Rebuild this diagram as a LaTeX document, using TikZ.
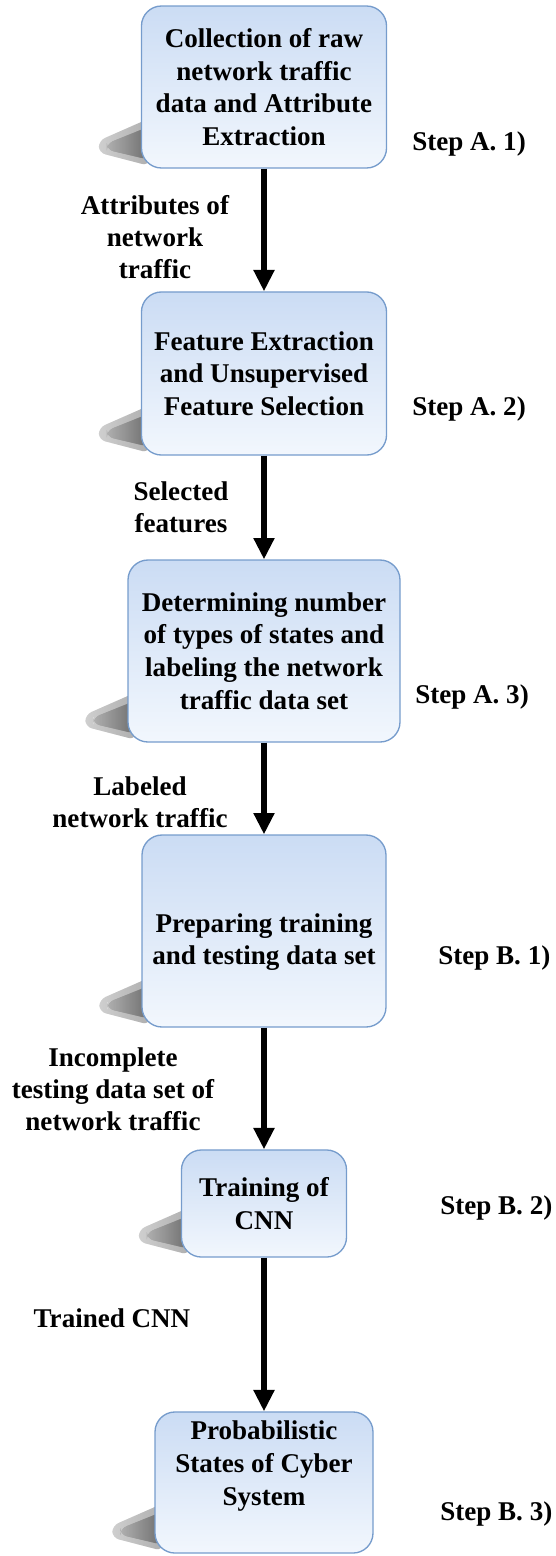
\documentclass[tikz,border=0pt]{standalone}
\usepackage{fontspec}
\setmainfont{Liberation Serif}
\usetikzlibrary{arrows.meta,calc,positioning,backgrounds}
\definecolor{boxtop}{RGB}{203,220,244}
\definecolor{boxbot}{RGB}{242,247,253}
\definecolor{boxline}{RGB}{118,156,204}

\begin{document}
\begin{tikzpicture}[x=0.75pt,y=-0.75pt,
    blk/.style={rounded corners=15pt,draw=boxline,line width=1pt,top color=boxtop,bottom color=boxbot,
      align=center,font=\bfseries\fontsize{20.3}{24.4}\selectfont,inner sep=0pt},
    lbl/.style={align=center,font=\bfseries\fontsize{20.3}{24}\selectfont,inner sep=0pt},
    stp/.style={anchor=base west,font=\bfseries\fontsize{20.3}{24}\selectfont,inner sep=0pt},
    e/.style={-{Triangle[length=16pt,width=15pt]},line width=3.8pt,black},
    shd/.style={left color=white,right color=black!50,rounded corners=5pt}
  ]
    \useasboundingbox (0,0) rectangle (556,1556);
    % boxes
    \node[blk,minimum width=183.8pt,minimum height=121.5pt] (b1) at (264,87)
      {Collection of raw\\network traffic\\data and Attribute\\Extraction};
    \node[blk,minimum width=183.8pt,minimum height=122.3pt] (b2) at (264,373.5)
      {Feature Extraction\\and Unsupervised\\Feature Selection};
    \node[blk,minimum width=204pt,minimum height=136.5pt] (b3) at (264,651)
      {Determining number\\of types of states and\\labeling the network\\traffic data set};
    \node[blk,minimum width=183pt,minimum height=144pt] (b4) at (264,931) {};
    \node[lbl,font=\bfseries\fontsize{20.3}{24.4}\selectfont] (b4t) at (264,942)
      {Preparing training\\and testing data set};
    \node[blk,minimum width=123.8pt,minimum height=80.3pt] (b5) at (264,1203.5)
      {Training of\\CNN};
    \node[blk,minimum width=163.5pt,minimum height=105.8pt] (b6) at (264,1482.5) {};
    \node[lbl,font=\bfseries\fontsize{20.3}{24.4}\selectfont] (b6t) at (264,1466)
      {Probabilistic\\States of Cyber\\System};
    % shadows
    \begin{scope}[on background layer]
      \foreach \b in {b1,b2,b3,b4,b5,b6}{
        \fill[shd,opacity=.25] ($(\b.south west)+(8,-50)$) -- ($(\b.south west)+(-42,-28)$)
          -- ($(\b.south west)+(-42,-16)$) -- ($(\b.south west)+(8,-3)$) -- cycle;
        \fill[shd,opacity=.45] ($(\b.south west)+(8,-42)$) -- ($(\b.south west)+(-34,-25)$)
          -- ($(\b.south west)+(-34,-19)$) -- ($(\b.south west)+(8,-9)$) -- cycle;
      }
    \end{scope}
    % arrows
    \draw[e] (b1) -- (b2);
    \draw[e] (b2) -- (b3);
    \draw[e] (b3) -- (b4);
    \draw[e] (b4) -- (b5);
    \draw[e] (b5) -- (b6);
    % arrow labels
    \node[lbl] (l1) at (155,237) {Attributes of\\network\\traffic};
    \node[lbl] (l2) at (181,507) {Selected\\features};
    \node[lbl] (l3) at (140,802) {Labeled\\network traffic};
    \node[lbl] (l4) at (113,1089) {Incomplete\\testing data set of\\network traffic};
    \node[lbl] (l5) at (112,1318) {Trained CNN};
    % steps
    \node[stp] (s1) at (412,150) {Step A. 1)};
    \node[stp] (s2) at (412,415) {Step A. 2)};
    \node[stp] (s3) at (415,703) {Step A. 3)};
    \node[stp] (s4) at (438,964) {Step B. 1)};
    \node[stp] (s5) at (440,1214) {Step B. 2)};
    \node[stp] (s6) at (440,1520) {Step B. 3)};
\end{tikzpicture}
\end{document}
